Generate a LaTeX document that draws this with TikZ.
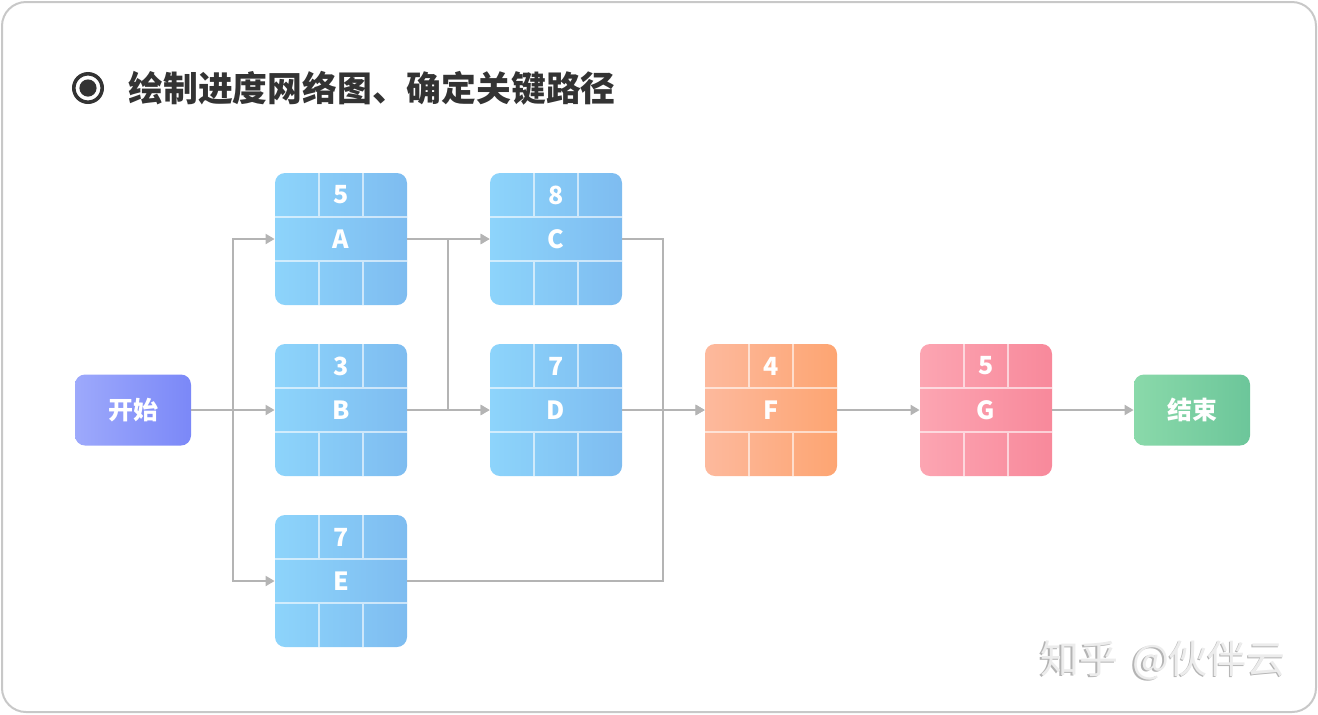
\documentclass[tikz,border=0pt]{standalone}
\usepackage{fontspec}
\setmainfont{Noto Sans CJK SC}
\newfontfamily\cjk{Noto Sans CJK SC}
\usetikzlibrary{arrows.meta,calc}
\definecolor{framegray}{HTML}{C8C8C8}
\definecolor{linegray}{HTML}{B4B4B4}
\definecolor{titlecol}{HTML}{333333}
\definecolor{blueL}{HTML}{8DD4FB}
\definecolor{blueR}{HTML}{7EBCF0}
\definecolor{violetL}{HTML}{9DA9FB}
\definecolor{violetR}{HTML}{7B88F8}
\definecolor{orangeL}{HTML}{FDB99D}
\definecolor{orangeR}{HTML}{FDA572}
\definecolor{pinkL}{HTML}{FCA5B2}
\definecolor{pinkR}{HTML}{F8899B}
\definecolor{greenL}{HTML}{8AD9AA}
\definecolor{greenR}{HTML}{6CC69A}
\definecolor{wmdark}{HTML}{B4B4B4}
\definecolor{wmlight}{HTML}{ECECEC}
\newcommand\tasknode[7]{%
  \node[task, left color=#6, right color=#7] (#1) at (#2,#3) {#5};
  \node[lbl] (#1-d) at (#2,#3-44) {#4};
  \draw[gridline] ($(#1.center)+(-66,-22)$) -- ++(132,0)
    ($(#1.center)+(-66,22)$) -- ++(132,0)
    ($(#1.center)+(-22,-66)$) -- ++(0,44)
    ($(#1.center)+(22,-66)$) -- ++(0,44)
    ($(#1.center)+(-22,22)$) -- ++(0,44)
    ($(#1.center)+(22,22)$) -- ++(0,44);
}
\begin{document}
\begin{tikzpicture}[x=0.5pt,y=-0.5pt,
  task/.style={minimum width=66pt, minimum height=66pt, rounded corners=5pt, inner sep=0pt,
    text=white, font=\cjk\bfseries\fontsize{12.5pt}{14pt}\selectfont},
  lbl/.style={inner sep=0pt, text=white, font=\cjk\bfseries\fontsize{12.5pt}{14pt}\selectfont},
  endbox/.style={minimum width=58pt, minimum height=35.5pt, rounded corners=5pt, inner sep=0pt,
    text=white, font=\cjk\bfseries\fontsize{12.5pt}{14pt}\selectfont},
  gridline/.style={draw=white, draw opacity=0.6, line width=0.6pt},
  conn/.style={draw=linegray, line width=1pt, -{Triangle[length=4.5pt,width=5pt]}}]
\useasboundingbox (0,0) rectangle (1318,714);
\draw[framegray, line width=1pt, rounded corners=12pt] (2,2) rectangle (1316,712);
% title
\node[circle, draw=titlecol, line width=1.8pt, minimum size=14.2pt, inner sep=0pt] (ring) at (88,88) {};
\node[circle, fill=titlecol, minimum size=8.6pt, inner sep=0pt] (dot) at (88,88) {};
\node[anchor=west, inner sep=0pt, text=titlecol, font=\cjk\bfseries\fontsize{17.4pt}{20pt}\selectfont] (title) at (128,88) {绘制进度网络图、确定关键路径};
% nodes
\node[endbox, left color=violetL, right color=violetR] (start) at (133,410) {开始};
\node[endbox, left color=greenL, right color=greenR] (end) at (1192,410) {结束};
\tasknode{A}{341}{239}{5}{A}{blueL}{blueR}
\tasknode{B}{341}{410}{3}{B}{blueL}{blueR}
\tasknode{E}{341}{581}{7}{E}{blueL}{blueR}
\tasknode{C}{556}{239}{8}{C}{blueL}{blueR}
\tasknode{D}{556}{410}{7}{D}{blueL}{blueR}
\tasknode{F}{771}{410}{4}{F}{orangeL}{orangeR}
\tasknode{G}{986}{410}{5}{G}{pinkL}{pinkR}
% junction columns
\coordinate (x1) at (233,0);
\coordinate (x2) at (448,0);
\coordinate (x3) at (663,0);
% connectors
\draw[conn] (start.east) -- (start.east -| x1) |- (A.west);
\draw[conn] (start.east) -- (B.west);
\draw[conn] (start.east) -- (start.east -| x1) |- (E.west);
\draw[conn] (A.east) -- (C.west);
\draw[conn] (A.east) -- (A.east -| x2) |- (D.west);
\draw[conn] (B.east) -- (B.east -| x2) |- (C.west);
\draw[conn] (B.east) -- (D.west);
\draw[conn] (C.east) -- (C.east -| x3) |- (F.west);
\draw[conn] (D.east) -- (F.west);
\draw[conn] (E.east) -- (E.east -| x3) |- (F.west);
\draw[conn] (F.east) -- (G.west);
\draw[conn] (G.east) -- (end.west);
% watermark
\node[anchor=west, inner sep=0pt, text=wmdark, font=\cjk\fontsize{19.5pt}{22pt}\selectfont] (wm1) at (1038.5,661.5) {知乎\hspace{0.35em}@伙伴云};
\node[anchor=west, inner sep=0pt, text=wmlight, font=\cjk\fontsize{19.5pt}{22pt}\selectfont] (wm2) at (1040,660) {知乎\hspace{0.35em}@伙伴云};
\end{tikzpicture}
\end{document}
